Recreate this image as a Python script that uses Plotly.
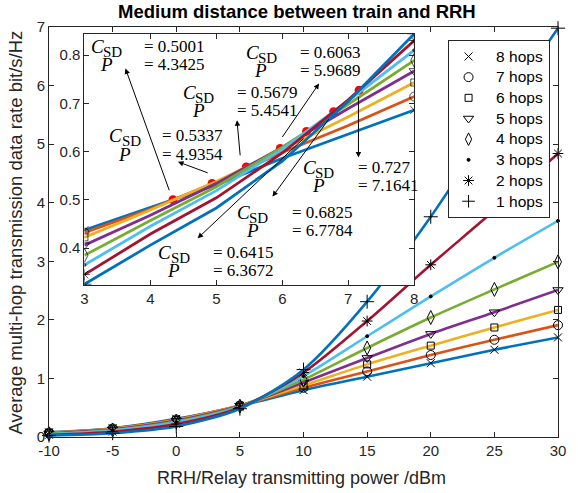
import plotly.graph_objects as go

# ---------------- data ----------------
power_main = [-10, -5, 0, 5, 10, 15, 20, 25, 30]
power_labels = ["-10", "-5", "0", "5", "10", "15", "20", "25", "30"]
rate_8 = [0.080, 0.150, 0.310, 0.531, 0.80, 1.03, 1.26, 1.49, 1.70]
rate_7 = [0.075, 0.145, 0.300, 0.537, 0.84, 1.12, 1.40, 1.66, 1.91]
rate_6 = [0.070, 0.140, 0.290, 0.538, 0.88, 1.24, 1.56, 1.87, 2.17]
rate_5 = [0.062, 0.130, 0.280, 0.534, 0.93, 1.35, 1.76, 2.13, 2.51]
rate_4 = [0.055, 0.120, 0.265, 0.527, 0.98, 1.52, 2.04, 2.52, 2.99]
rate_3 = [0.047, 0.110, 0.250, 0.519, 1.04, 1.72, 2.40, 3.06, 3.69]
rate_2 = [0.037, 0.090, 0.220, 0.504, 1.10, 1.98, 2.94, 3.87, 4.84]
rate_1 = [0.025, 0.065, 0.180, 0.483, 1.15, 2.31, 3.76, 5.40, 6.98]

power_zoom = [3, 4, 5, 6, 7, 8]
zoom_8 = [0.437, 0.484, 0.531, 0.586, 0.636, 0.686]
zoom_7 = [0.432, 0.481, 0.537, 0.598, 0.654, 0.714]
zoom_6 = [0.422, 0.479, 0.538, 0.604, 0.672, 0.743]
zoom_5 = [0.406, 0.468, 0.534, 0.609, 0.689, 0.767]
zoom_4 = [0.385, 0.457, 0.527, 0.609, 0.698, 0.789]
zoom_3 = [0.365, 0.445, 0.519, 0.605, 0.705, 0.810]
zoom_2 = [0.345, 0.429, 0.504, 0.597, 0.707, 0.830]
zoom_1 = [0.325, 0.406, 0.483, 0.580, 0.704, 0.844]
zoom_rate_ticks = [0.4, 0.5, 0.6, 0.7, 0.8]
zoom_rate_labels = ["0.4", "0.5", "0.6", "0.7", "0.8"]

cross_power = [4.3425, 4.9354, 5.4541, 5.9689, 6.3672, 6.7784, 7.1641]
cross_rate = [0.5001, 0.5337, 0.5679, 0.6063, 0.6415, 0.6825, 0.727]

hop_names = ["8 hops", "7 hops", "6 hops", "5 hops", "4 hops", "3 hops", "2 hops", "1 hops"]
main_series = [rate_8, rate_7, rate_6, rate_5, rate_4, rate_3, rate_2, rate_1]
zoom_series = [zoom_8, zoom_7, zoom_6, zoom_5, zoom_4, zoom_3, zoom_2, zoom_1]

# ---------------- styles ----------------
colors = ["#0072BD", "#D95319", "#EDB120", "#7E2F8E", "#77AC30", "#4DBEEE", "#A2142F", "#0072BD"]
symbols = ["x-thin-open", "circle-open", "square-open", "triangle-down-open",
           "diamond-tall-open", "circle", "asterisk-open", "cross-thin-open"]
msizes = [8, 9, 7, 9, 10, 3, 9, 10]
AX = "#262626"
SANS = "Liberation Sans, Arial, Helvetica, sans-serif"
SERIF = "Liberation Serif, Times New Roman, serif"

fig = go.Figure()

# main curves
for name, ys, c, s, ms in zip(hop_names, main_series, colors, symbols, msizes):
    fig.add_trace(go.Scatter(
        x=power_main, y=ys, mode="lines+markers", name=name, showlegend=False,
        line=dict(color=c, width=2.6, shape="spline", smoothing=0.8),
        marker=dict(symbol=s, size=ms, color="black", line=dict(color="black", width=1)),
        cliponaxis=False, xaxis="x", yaxis="y"))

# inset: crossing points first (under the lines)
fig.add_trace(go.Scatter(
    x=cross_power, y=cross_rate, mode="markers", showlegend=False,
    marker=dict(symbol="circle", size=9, color="#FF0000"),
    xaxis="x2", yaxis="y2"))

for name, ys, c, s, ms in zip(hop_names, zoom_series, colors, symbols, msizes):
    sizes = [ms if i in (0, len(ys) - 1) else 0 for i in range(len(ys))]
    fig.add_trace(go.Scatter(
        x=power_zoom, y=ys, mode="lines+markers", showlegend=False,
        line=dict(color=c, width=2.8),
        marker=dict(symbol=s, size=sizes, color="black", line=dict(color="black", width=1)),
        xaxis="x2", yaxis="y2"))

# legend-only entries (markers only)
for name, s, ms in zip(hop_names, symbols, msizes):
    fig.add_trace(go.Scatter(
        x=[None], y=[None], mode="markers",
        name="\u00a0\u00a0<span style=\"font-size:15.5px\">" + name + "</span>",
        marker=dict(symbol=s, size=min(ms, 9), color="black", line=dict(color="black", width=1)),
        xaxis="x", yaxis="y"))

# ---------------- annotations in inset ----------------
label_cx = [3.336, 3.612, 4.728, 5.675, 4.355, 5.549, 6.545]
label_rx = [3.870, 4.145, 5.288, 6.234, 4.915, 6.109, 7.119]
label_y1 = [0.8178, 0.6323, 0.7219, 0.8048, 0.3907, 0.4735, 0.5667]
row_gap = 0.0379
c_dx, sd_dx, sd_dy = -0.134, 0.097, -0.0114

arrow_tail = [(4.294, 0.5166), (4.891, 0.5547), (5.363, 0.5890), (5.985, 0.6271),
              (6.343, 0.6298), (6.720, 0.6700), (7.154, 0.7168)]
arrow_head = [(3.622, 0.7721), (4.418, 0.5787), (5.313, 0.6650), (6.557, 0.7410),
              (4.716, 0.4201), (5.851, 0.5066), (7.154, 0.5874)]

annotations = []
tfont = dict(family=SERIF, size=17, color="black")
for i in range(len(cross_rate)):
    y1 = label_y1[i]
    y2 = y1 - row_gap
    cx = label_cx[i]
    annotations.append(dict(x=cx + c_dx, y=y1, xref="x2", yref="y2",
                            text="<i>C</i>", showarrow=False,
                            xanchor="center", yanchor="middle",
                            font=dict(family=SERIF, size=19, color="black")))
    annotations.append(dict(x=cx + sd_dx, y=y1 + sd_dy, xref="x2", yref="y2",
                            text="SD", showarrow=False,
                            xanchor="center", yanchor="middle",
                            font=dict(family=SERIF, size=15, color="black")))
    annotations.append(dict(x=cx, y=y2, xref="x2", yref="y2",
                            text="<i>P</i>", showarrow=False,
                            xanchor="center", yanchor="middle",
                            font=dict(family=SERIF, size=19, color="black")))
    annotations.append(dict(x=label_rx[i], y=y1, xref="x2", yref="y2",
                            text="= " + f"{cross_rate[i]:g}", showarrow=False,
                            xanchor="left", yanchor="middle", font=tfont))
    annotations.append(dict(x=label_rx[i], y=y2, xref="x2", yref="y2",
                            text="= " + f"{cross_power[i]:g}", showarrow=False,
                            xanchor="left", yanchor="middle", font=tfont))
    (tx, ty), (hx, hy) = arrow_tail[i], arrow_head[i]
    annotations.append(dict(x=hx, y=hy, ax=tx, ay=ty, xref="x2", yref="y2",
                            axref="x2", ayref="y2", text="", showarrow=True,
                            arrowhead=2, arrowsize=1.1, arrowwidth=1, arrowcolor="black"))

# titles
annotations.append(dict(text="<b>Medium distance between train and RRH</b>",
                        x=0.487, y=1.0366, xref="paper", yref="paper", showarrow=False,
                        xanchor="center", yanchor="middle",
                        font=dict(family=SANS, size=18.5, color="black")))
annotations.append(dict(text="RRH/Relay transmitting power /dBm",
                        x=0.496, y=-0.10, xref="paper", yref="paper", showarrow=False,
                        xanchor="center", yanchor="middle",
                        font=dict(family=SANS, size=18, color=AX)))
annotations.append(dict(text="Average multi-hop transmission data rate bit/s/Hz",
                        x=-0.066, y=0.5, xref="paper", yref="paper", showarrow=False,
                        xanchor="center", yanchor="middle", textangle=-90,
                        font=dict(family=SANS, size=18.5, color=AX)))

axis_common = dict(showline=True, linecolor=AX, linewidth=1, mirror="ticks",
                   ticks="inside", ticklen=5, tickcolor=AX, showgrid=False,
                   zeroline=False, tickfont=dict(family=SANS, size=15, color=AX))

fig.update_layout(
    width=578, height=493,
    margin=dict(l=49, r=12, t=27, b=56),
    paper_bgcolor="white", plot_bgcolor="white",
    xaxis=dict(range=[-10, 30], tickvals=power_main, ticktext=power_labels,
               domain=[0, 1], anchor="y", **axis_common),
    yaxis=dict(range=[0, 7], dtick=1, domain=[0, 1], anchor="x", **axis_common),
    xaxis2=dict(range=[3, 8], dtick=1, domain=[0.0696, 0.7176], anchor="y2",
                **axis_common),
    yaxis2=dict(range=[0.3234, 0.8435], tickvals=zoom_rate_ticks,
                ticktext=zoom_rate_labels,
                domain=[0.3707, 0.9829], anchor="x2", **axis_common),
    legend=dict(x=0.783, y=0.968, xanchor="left", yanchor="top",
                bgcolor="white", bordercolor=AX, borderwidth=1,
                font=dict(family=SANS, size=13.6, color="black"),
                tracegroupgap=0),
    annotations=annotations,
    showlegend=True,
)

# remove the default page margin so the figure sits at the window origin
fig.write_html("out.html", config={"displayModeBar": False},
               post_script="document.body.style.margin='0';")
